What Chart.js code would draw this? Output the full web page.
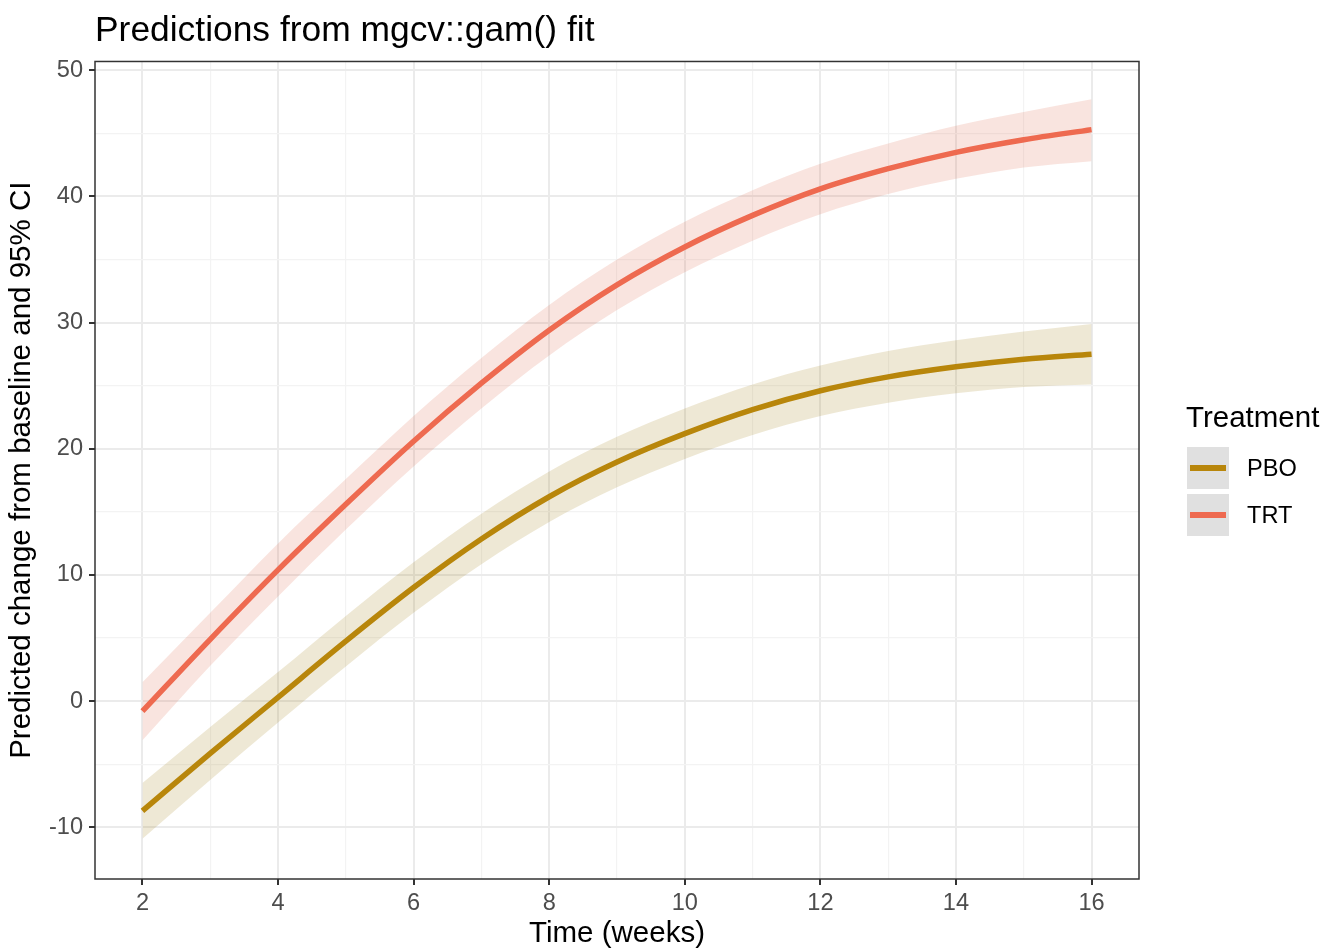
<!DOCTYPE html>
<html>
<head>
<meta charset="utf-8">
<script src="https://cdn.jsdelivr.net/npm/chart.js@4"></script>
<style>
  body { margin: 0; background: #fff; }
  #wrap { position: relative; width: 1334px; height: 952px; font-family: "Liberation Sans", Arial, sans-serif; }
  .leg-title { position: absolute; left: 1186px; top: 400px; font-size: 29.5px; color: #000; }
  .leg-key { position: absolute; left: 1187px; width: 42px; height: 42px; background: #E0E0E0; }
  .leg-key span { position: absolute; left: 3px; right: 3px; top: 18px; height: 6px; }
  .leg-lab { position: absolute; left: 1247px; font-size: 23.6px; color: #000; line-height: 28px; }
</style>
</head>
<body>
<div id="wrap">
  <canvas id="gamChart" width="1334" height="952"></canvas>
  <div class="leg-title">Treatment</div>
  <div class="leg-key" style="top:447px"><span style="background:#B8860B"></span></div>
  <div class="leg-lab" style="top:454px">PBO</div>
  <div class="leg-key" style="top:494px"><span style="background:#EE6A50"></span></div>
  <div class="leg-lab" style="top:501px">TRT</div>
</div>
<script>
// Weeks and model predictions
var weeks = [2, 3, 4, 5, 6, 7, 8, 9, 10, 11, 12, 13, 14, 15, 16];

var pboFit   = [-8.7, -4.15, 0.3, 4.75, 9.0, 12.85, 16.2, 18.95, 21.2, 23.1, 24.6, 25.7, 26.5, 27.1, 27.5];
var pboUpper = [-6.5, -2.05, 2.3, 6.75, 11.0, 14.85, 18.2, 20.95, 23.2, 25.1, 26.6, 27.75, 28.6, 29.3, 29.9];
var pboLower = [-10.9, -6.25, -1.7, 2.75, 7.0, 10.85, 14.2, 16.95, 19.2, 21.1, 22.6, 23.65, 24.4, 24.9, 25.1];

var trtFit   = [-0.8, 4.9, 10.4, 15.6, 20.6, 25.2, 29.4, 33.0, 36.0, 38.5, 40.6, 42.2, 43.5, 44.5, 45.3];
var trtUpper = [1.5, 7.0, 12.5, 17.6, 22.6, 27.2, 31.4, 35.0, 38.0, 40.5, 42.6, 44.2, 45.6, 46.7, 47.7];
var trtLower = [-3.1, 2.8, 8.3, 13.6, 18.6, 23.2, 27.4, 31.0, 34.0, 36.5, 38.6, 40.2, 41.4, 42.3, 42.8];

var xTicks = [2, 3, 4, 5, 6, 7, 8, 9, 10, 11, 12, 13, 14, 15, 16];
var yTicks = [-10, -5, 0, 5, 10, 15, 20, 25, 30, 35, 40, 45, 50];

var pboColor = "#B8860B";
var trtColor = "#EE6A50";

function toPoints(values) {
    return weeks.map(function (w, i) { return { x: w, y: values[i] }; });
}

function lineSet(label, values, color) {
    return {
        label: label,
        data: toPoints(values),
        borderColor: color,
        borderWidth: 5.5,
        pointRadius: 0,
        fill: false,
        cubicInterpolationMode: "monotone",
    };
}

function bandSet(values, fillTo, fillColor) {
    return {
        label: "",
        data: toPoints(values),
        borderWidth: 0,
        borderColor: "rgba(0,0,0,0)",
        backgroundColor: fillColor,
        pointRadius: 0,
        fill: fillTo,
        cubicInterpolationMode: "monotone",
    };
}

// draw the full panel border on top like ggplot theme_bw
var panelBorder = {
    id: "panelBorder",
    afterDatasetsDraw: function (chart) {
        var a = chart.chartArea;
        var ctx = chart.ctx;
        ctx.save();
        ctx.strokeStyle = "#333333";
        ctx.lineWidth = 1.5;
        ctx.strokeRect(a.left, a.top, a.right - a.left, a.bottom - a.top);
        ctx.restore();
    },
};

var ctx = document.getElementById("gamChart").getContext("2d");
var tickFont = { family: "'Liberation Sans', Arial, sans-serif", size: 23.6 };
var titleFont = { family: "'Liberation Sans', Arial, sans-serif", size: 29.5 };

new Chart(ctx, {
    type: "line",
    data: {
        datasets: [
            lineSet("PBO", pboFit, pboColor),
            lineSet("TRT", trtFit, trtColor),
            bandSet(pboUpper, "+1", "rgba(161,127,22,0.18)"),
            bandSet(pboLower, false, "rgba(0,0,0,0)"),
            bandSet(trtUpper, "+1", "rgba(222,105,77,0.18)"),
            bandSet(trtLower, false, "rgba(0,0,0,0)"),
        ],
    },
    options: {
        responsive: false,
        devicePixelRatio: 1,
        animation: false,
        layout: { padding: { left: 0, right: 195, top: 0, bottom: 0 } },
        plugins: {
            legend: { display: false },
            tooltip: { enabled: false },
            title: {
                display: true,
                text: "Predictions from mgcv::gam() fit",
                align: "start",
                fullSize: false,
                color: "#000",
                font: { family: "'Liberation Sans', Arial, sans-serif", size: 35.4, weight: "normal" },
                padding: { top: 10, bottom: 9 },
            },
        },
        scales: {
            x: {
                type: "linear",
                min: 1.3,
                max: 16.7,
                afterBuildTicks: function (scale) {
                    scale.ticks = xTicks.map(function (v) { return { value: v }; });
                },
                afterFit: function (scale) { scale.height = 73; },
                ticks: {
                    autoSkip: false,
                    maxRotation: 0,
                    color: "#4D4D4D",
                    font: tickFont,
                    padding: 4,
                    callback: function (v) { return v % 2 === 0 ? String(v) : ""; },
                },
                grid: {
                    color: function (c) { return c.tick && c.tick.value % 2 === 0 ? "#EBEBEB" : "#F3F3F3"; },
                    lineWidth: function (c) { return c.tick && c.tick.value % 2 === 0 ? 2 : 1.2; },
                    tickColor: function (c) { return c.tick && c.tick.value % 2 === 0 ? "#333333" : "rgba(0,0,0,0)"; },
                    tickLength: 6,
                    tickWidth: 2,
                },
                border: { display: false },
                title: {
                    display: true,
                    text: "Time (weeks)",
                    color: "#000",
                    font: titleFont,
                    padding: { top: 0, bottom: 0 },
                },
            },
            y: {
                type: "linear",
                min: -14.1,
                max: 50.7,
                afterBuildTicks: function (scale) {
                    scale.ticks = yTicks.map(function (v) { return { value: v }; });
                },
                afterFit: function (scale) { scale.width = 95; },
                ticks: {
                    autoSkip: false,
                    color: "#4D4D4D",
                    font: tickFont,
                    padding: 6,
                    callback: function (v) { return v % 10 === 0 ? String(v) : ""; },
                },
                grid: {
                    color: function (c) { return c.tick && c.tick.value % 10 === 0 ? "#EBEBEB" : "#F3F3F3"; },
                    lineWidth: function (c) { return c.tick && c.tick.value % 10 === 0 ? 2 : 1.2; },
                    tickColor: function (c) { return c.tick && c.tick.value % 10 === 0 ? "#333333" : "rgba(0,0,0,0)"; },
                    tickLength: 6,
                    tickWidth: 2,
                },
                border: { display: false },
                title: {
                    display: true,
                    text: "Predicted change from baseline and 95% CI",
                    color: "#000",
                    font: titleFont,
                    padding: { top: 4, bottom: 0 },
                },
            },
        },
    },
    plugins: [panelBorder],
});
</script>
</body>
</html>
